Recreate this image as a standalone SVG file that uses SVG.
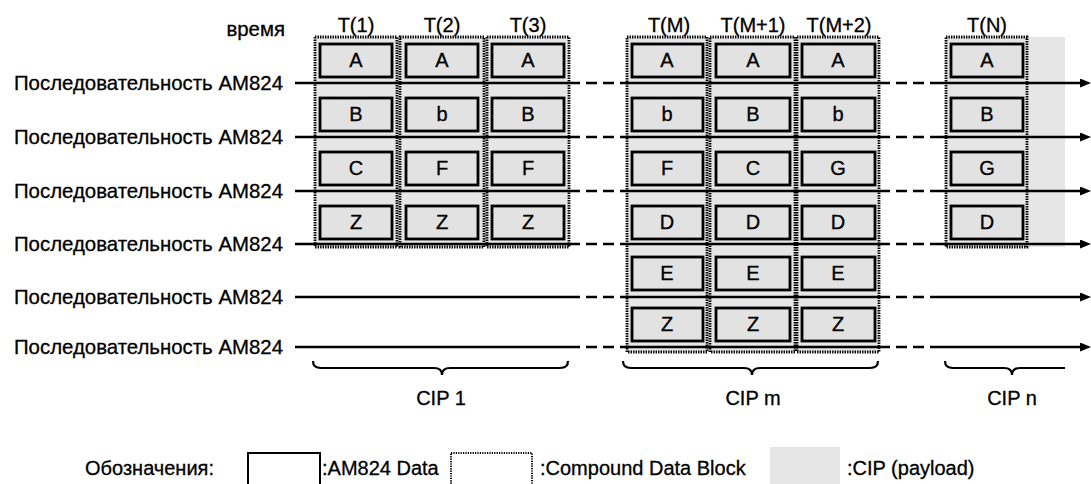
<svg xmlns="http://www.w3.org/2000/svg" width="1091" height="484" viewBox="0 0 1091 484">
<style>
text{font-family:"Liberation Sans",Arial,sans-serif;font-size:20px;fill:#000;stroke:#000;stroke-width:0.3}
.lbl{text-anchor:end;font-size:20.4px}
.c{text-anchor:middle}
.cip{fill:#e6e6e6;stroke:none}
.cdb{fill:none;stroke:#000;stroke-width:2.8;stroke-dasharray:1.4 1.1}
.d{fill:#e2e2e2;stroke:#000;stroke-width:2.8}
.ln{stroke:#000;stroke-width:2.5;fill:none}
.dash{stroke:#000;stroke-width:2.5;fill:none;stroke-dasharray:11 6}
.brace{fill:none;stroke:#000;stroke-width:2.2}
</style>
<defs>
<marker id="arr" markerUnits="userSpaceOnUse" markerWidth="12" markerHeight="10" refX="0" refY="4.5" orient="auto">
<path d="M0,0 L11,4.5 L0,9 z" fill="#000"/>
</marker>
</defs>

<text class="lbl" x="285" y="36">время</text>

<g id="row-labels">
<text class="lbl" x="283" y="90">Последовательность AM824</text>
<text class="lbl" x="283" y="144">Последовательность AM824</text>
<text class="lbl" x="283" y="198">Последовательность AM824</text>
<text class="lbl" x="283" y="251">Последовательность AM824</text>
<text class="lbl" x="283" y="304">Последовательность AM824</text>
<text class="lbl" x="283" y="354">Последовательность AM824</text>
</g>

<g id="cip1">
<rect class="cip" x="315" y="37" width="254" height="210"/>
<g id="T1">
<text class="c" x="356" y="32">T(1)</text>
<rect class="cdb" x="315" y="37" width="82" height="210"/>
<rect class="d" x="320" y="44" width="72" height="33"/><text class="c" x="356" y="67">A</text>
<rect class="d" x="320" y="98" width="72" height="33"/><text class="c" x="356" y="121">B</text>
<rect class="d" x="320" y="152" width="72" height="33"/><text class="c" x="356" y="175">C</text>
<rect class="d" x="320" y="206" width="72" height="33"/><text class="c" x="356" y="229">Z</text>
</g>
<g id="T2">
<text class="c" x="442" y="32">T(2)</text>
<rect class="cdb" x="400" y="37" width="84" height="210"/>
<rect class="d" x="406" y="44" width="72" height="33"/><text class="c" x="442" y="67">A</text>
<rect class="d" x="406" y="98" width="72" height="33"/><text class="c" x="442" y="121">b</text>
<rect class="d" x="406" y="152" width="72" height="33"/><text class="c" x="442" y="175">F</text>
<rect class="d" x="406" y="206" width="72" height="33"/><text class="c" x="442" y="229">Z</text>
</g>
<g id="T3">
<text class="c" x="528" y="32">T(3)</text>
<rect class="cdb" x="487" y="37" width="82" height="210"/>
<rect class="d" x="492" y="44" width="72" height="33"/><text class="c" x="528" y="67">A</text>
<rect class="d" x="492" y="98" width="72" height="33"/><text class="c" x="528" y="121">B</text>
<rect class="d" x="492" y="152" width="72" height="33"/><text class="c" x="528" y="175">F</text>
<rect class="d" x="492" y="206" width="72" height="33"/><text class="c" x="528" y="229">Z</text>
</g>
</g>

<g id="cipm">
<rect class="cip" x="627" y="37" width="252" height="315"/>
<g id="TM">
<text class="c" x="669" y="32">T(M)</text>
<rect class="cdb" x="627" y="37" width="80" height="315"/>
<rect class="d" x="632" y="44" width="71" height="33"/><text class="c" x="667" y="67">A</text>
<rect class="d" x="632" y="98" width="71" height="33"/><text class="c" x="667" y="121">b</text>
<rect class="d" x="632" y="152" width="71" height="33"/><text class="c" x="667" y="175">F</text>
<rect class="d" x="632" y="206" width="71" height="33"/><text class="c" x="667" y="229">D</text>
<rect class="d" x="632" y="257" width="71" height="33"/><text class="c" x="667" y="280">E</text>
<rect class="d" x="632" y="308" width="71" height="33"/><text class="c" x="667" y="331">Z</text>
</g>
<g id="TM1">
<text class="c" x="753" y="32">T(M+1)</text>
<rect class="cdb" x="710" y="37" width="85" height="315"/>
<rect class="d" x="716" y="44" width="74" height="33"/><text class="c" x="753" y="67">A</text>
<rect class="d" x="716" y="98" width="74" height="33"/><text class="c" x="753" y="121">B</text>
<rect class="d" x="716" y="152" width="74" height="33"/><text class="c" x="753" y="175">C</text>
<rect class="d" x="716" y="206" width="74" height="33"/><text class="c" x="753" y="229">D</text>
<rect class="d" x="716" y="257" width="74" height="33"/><text class="c" x="753" y="280">E</text>
<rect class="d" x="716" y="308" width="74" height="33"/><text class="c" x="753" y="331">Z</text>
</g>
<g id="TM2">
<text class="c" x="839" y="32">T(M+2)</text>
<rect class="cdb" x="797" y="37" width="82" height="315"/>
<rect class="d" x="802" y="44" width="73" height="33"/><text class="c" x="838" y="67">A</text>
<rect class="d" x="802" y="98" width="73" height="33"/><text class="c" x="838" y="121">b</text>
<rect class="d" x="802" y="152" width="73" height="33"/><text class="c" x="838" y="175">G</text>
<rect class="d" x="802" y="206" width="73" height="33"/><text class="c" x="838" y="229">D</text>
<rect class="d" x="802" y="257" width="73" height="33"/><text class="c" x="838" y="280">E</text>
<rect class="d" x="802" y="308" width="73" height="33"/><text class="c" x="838" y="331">Z</text>
</g>
</g>

<g id="cipn">
<rect class="cip" x="946" y="37" width="119" height="210"/>
<g id="TN">
<text class="c" x="987" y="32">T(N)</text>
<rect class="cdb" x="946" y="37" width="81" height="210"/>
<rect class="d" x="951" y="44" width="72" height="33"/><text class="c" x="987" y="67">A</text>
<rect class="d" x="951" y="98" width="72" height="33"/><text class="c" x="987" y="121">B</text>
<rect class="d" x="951" y="152" width="72" height="33"/><text class="c" x="987" y="175">G</text>
<rect class="d" x="951" y="206" width="72" height="33"/><text class="c" x="987" y="229">D</text>
</g>
</g>

<g id="connectors">
<g id="seq1">
<path class="ln" d="M295,83 H569 M627,83 H879"/><path class="dash" d="M569,83 H627 M879,83 H938"/><path class="ln" d="M938,83 H1080" marker-end="url(#arr)"/>
</g>
<g id="seq2">
<path class="ln" d="M295,137 H569 M627,137 H879"/><path class="dash" d="M569,137 H627 M879,137 H938"/><path class="ln" d="M938,137 H1080" marker-end="url(#arr)"/>
</g>
<g id="seq3">
<path class="ln" d="M295,191 H569 M627,191 H879"/><path class="dash" d="M569,191 H627 M879,191 H938"/><path class="ln" d="M938,191 H1080" marker-end="url(#arr)"/>
</g>
<g id="seq4">
<path class="ln" d="M295,244 H569 M627,244 H879"/><path class="dash" d="M569,244 H627 M879,244 H938"/><path class="ln" d="M938,244 H1080" marker-end="url(#arr)"/>
</g>
<g id="seq5">
<path class="ln" d="M295,297 H569 M627,297 H879"/><path class="dash" d="M569,297 H627 M879,297 H938"/><path class="ln" d="M938,297 H1080" marker-end="url(#arr)"/>
</g>
<g id="seq6">
<path class="ln" d="M295,347 H569 M627,347 H879"/><path class="dash" d="M569,347 H627 M879,347 H938"/><path class="ln" d="M938,347 H1080" marker-end="url(#arr)"/>
</g>
</g>

<g id="braces">
<path class="brace" d="M313,361 Q313,368 321,368 L434,368 Q442,368 442,375 Q442,368 450,368 L560,368 Q568,368 568,361"/>
<text class="c" x="441" y="405">CIP 1</text>
<path class="brace" d="M623,361 Q623,368 631,368 L744,368 Q752,368 752,375 Q752,368 760,368 L870,368 Q878,368 878,361"/>
<text class="c" x="753" y="405">CIP m</text>
<path class="brace" d="M945,361 Q945,368 953,368 L1004,368 Q1012,368 1012,375 Q1012,368 1020,368 L1065,368"/>
<text class="c" x="1012" y="405">CIP n</text>
</g>

<g id="legend">
<text x="85" y="475">Обозначения:</text>
<rect x="248" y="453" width="72" height="40" fill="none" stroke="#000" stroke-width="2"/>
<text x="322" y="475">:AM824 Data</text>
<rect x="451" y="453" width="81" height="40" fill="none" stroke="#000" stroke-width="2" stroke-dasharray="1.2 1.2"/>
<text x="540" y="475">:Compound Data Block</text>
<rect x="770" y="447" width="70" height="40" fill="#e6e6e6"/>
<text x="847" y="475">:CIP (payload)</text>
</g>
</svg>
